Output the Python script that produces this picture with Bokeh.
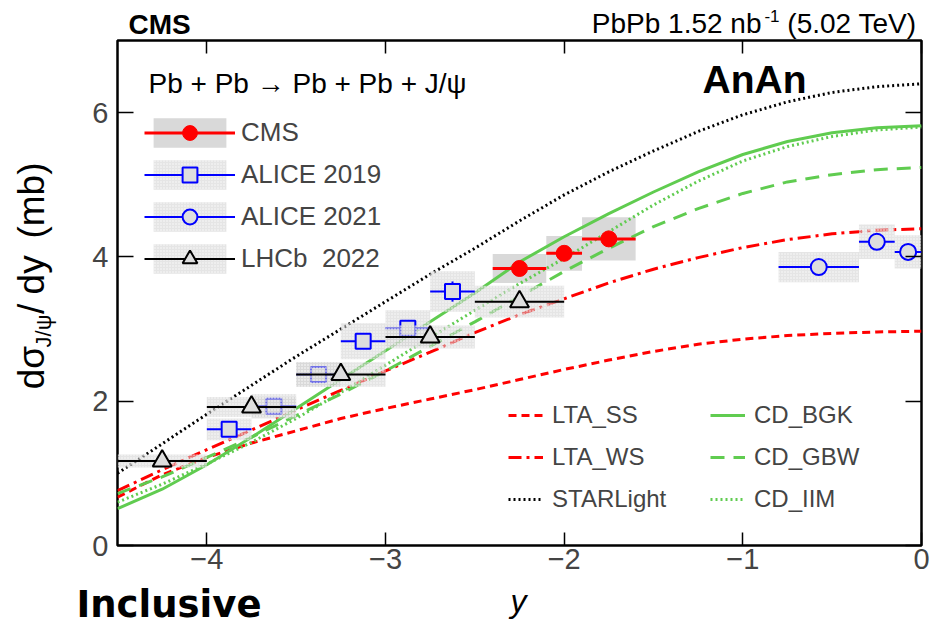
import math
from bokeh.plotting import figure
from bokeh.layouts import column, row
from bokeh.models import (Range1d, LinearAxis, FixedTicker, Label, Legend,
                          LegendItem, CustomJSTickFormatter)
from bokeh.embed import file_html
from bokeh.resources import INLINE

# ---------------- data ----------------
# theory curves, rapidity grid
rap = [-4.5, -4.25, -4.0, -3.75, -3.5, -3.25, -3.0, -2.75, -2.5, -2.25,
       -2.0, -1.75, -1.5, -1.25, -1.0, -0.75, -0.5, -0.25, 0.0]
lta_ss = [0.67, 0.98, 1.22, 1.42, 1.59, 1.76, 1.90, 2.03, 2.16, 2.30,
          2.44, 2.57, 2.69, 2.79, 2.86, 2.91, 2.94, 2.96, 2.97]
lta_ws = [0.76, 1.05, 1.33, 1.60, 1.88, 2.15, 2.42, 2.68, 2.95, 3.20,
          3.42, 3.64, 3.83, 3.99, 4.13, 4.24, 4.32, 4.37, 4.39]
starlight = [1.00, 1.41, 1.82, 2.22, 2.62, 3.00, 3.38, 3.76, 4.12, 4.50,
             4.86, 5.18, 5.47, 5.74, 5.97, 6.15, 6.28, 6.36, 6.40]
cd_bgk = [0.51, 0.78, 1.12, 1.50, 1.90, 2.30, 2.70, 3.10, 3.50, 3.93,
          4.28, 4.60, 4.90, 5.18, 5.42, 5.60, 5.72, 5.79, 5.82]
cd_gbw = [0.72, 0.95, 1.22, 1.50, 1.80, 2.10, 2.42, 2.76, 3.10, 3.45,
          3.80, 4.12, 4.42, 4.67, 4.88, 5.04, 5.14, 5.21, 5.24]
cd_iim = [0.60, 0.85, 1.13, 1.43, 1.76, 2.12, 2.50, 2.88, 3.26, 3.63,
          3.98, 4.35, 4.72, 5.05, 5.33, 5.53, 5.67, 5.76, 5.80]

# CMS
cms_lo = [-2.4, -2.1, -1.9]
cms_hi = [-2.1, -1.9, -1.6]
cms_x = [-2.25, -2.0, -1.75]
cms_y = [3.84, 4.05, 4.25]
cms_sys = [0.20, 0.24, 0.30]

# ALICE 2019
a19_lo = [-4.0, -3.75, -3.5, -3.25, -3.0, -2.75]
a19_hi = [-3.75, -3.5, -3.25, -3.0, -2.75, -2.5]
a19_x = [-3.875, -3.625, -3.375, -3.125, -2.875, -2.625]
a19_y = [1.61, 1.93, 2.37, 2.83, 3.01, 3.52]
a19_stat = [0.06, 0.07, 0.08, 0.10, 0.11, 0.14]
a19_sys = [0.15, 0.17, 0.17, 0.25, 0.25, 0.28]

# ALICE 2021
a21_lo = [-0.8, -0.35, -0.15]
a21_hi = [-0.35, -0.15, 0.0]
a21_x = [-0.575, -0.25, -0.075]
a21_y = [3.86, 4.21, 4.07]
a21_sys = [0.21, 0.24, 0.23]

# LHCb 2022
lhcb_lo = [-4.5, -4.0, -3.5, -3.0, -2.5]
lhcb_hi = [-4.0, -3.5, -3.0, -2.5, -2.0]
lhcb_x = [-4.25, -3.75, -3.25, -2.75, -2.25]
lhcb_y = [1.17, 1.92, 2.37, 2.89, 3.38]
lhcb_sys = [0.09, 0.14, 0.17, 0.16, 0.22]

x_ticks = [-4, -3, -2, -1, 0]
y_ticks = [0, 2, 4, 6]

# ---------------- styling / layout ----------------
RED = "#ff0000"
BLUE = "#0000ff"
GREEN = "#60cc50"
FONT = "Liberation Sans"
MID = 0.355           # cap-middle above baseline, in em

W, H = 935, 627
TOP_H = 39            # header strip
MID_H = 543           # main plot height
BOT_H = H - TOP_H - MID_H
LS_W = 75             # y-title strip width
M_W = W - LS_W
FRAME_L, FRAME_R, FRAME_T, FRAME_B = 117, 921, 40, 545
X0, X1, Y0, Y1 = -4.5, 0.0, 0.0, 7.0


def strip(w, h):
    f = figure(width=w, height=h, x_range=Range1d(0, w), y_range=Range1d(0, h),
               output_backend="svg", toolbar_location=None,
               x_axis_type=None, y_axis_type=None, min_border=0)
    f.outline_line_color = None
    f.background_fill_color = "white"
    f.border_fill_color = "white"
    f.xgrid.visible = False
    f.ygrid.visible = False
    return f


def lab(fig, text, x, y, size, style="normal", angle=0.0, align="left", font=FONT):
    fig.add_layout(Label(x=x, y=y, text=text, text_font=font,
                         text_font_size=f"{size}px", text_font_style=style,
                         angle=angle, text_align=align,
                         text_baseline="middle", text_color="black"))


# ---------------- main plot ----------------
p = figure(width=M_W, height=MID_H, x_range=Range1d(X0, X1),
           y_range=Range1d(Y0, Y1), output_backend="svg", toolbar_location=None,
           min_border_left=FRAME_L - LS_W, min_border_right=W - FRAME_R,
           min_border_top=FRAME_T - TOP_H,
           min_border_bottom=TOP_H + MID_H - FRAME_B)
p.xgrid.visible = False
p.ygrid.visible = False
p.outline_line_color = "black"
p.outline_line_width = 2.5
p.background_fill_color = "white"
p.border_fill_color = "white"

fmt = CustomJSTickFormatter(code="return (tick < 0 ? '\u2212' : '') + Math.abs(tick).toFixed(0);")

for ax in (p.xaxis[0], p.yaxis[0]):
    ax.axis_line_color = None
    ax.major_tick_out = 0
    ax.minor_tick_in = 0
    ax.minor_tick_out = 0
    ax.major_tick_line_width = 1.5
    ax.major_label_text_font = FONT
    ax.major_label_text_font_size = "29px"
p.xaxis[0].major_label_standoff = 3
p.yaxis[0].major_label_standoff = 9
p.xaxis[0].ticker = FixedTicker(ticks=x_ticks)
p.yaxis[0].ticker = FixedTicker(ticks=y_ticks)
p.xaxis[0].formatter = fmt
p.yaxis[0].formatter = fmt
p.xaxis[0].major_tick_in = 13
p.yaxis[0].major_tick_in = 16

top_ax = LinearAxis(ticker=FixedTicker(ticks=x_ticks))
right_ax = LinearAxis(ticker=FixedTicker(ticks=y_ticks))
for ax, tin in ((top_ax, 13), (right_ax, 16)):
    ax.axis_line_color = None
    ax.major_tick_out = 0
    ax.major_tick_in = tin
    ax.major_tick_line_width = 1.5
    ax.minor_tick_in = 0
    ax.minor_tick_out = 0
    ax.major_label_text_font_size = "1px"
    ax.major_label_text_color = None
    ax.major_label_standoff = 0
p.add_layout(top_ax, "above")
p.add_layout(right_ax, "right")


def lows(v, e):
    return [a - b for a, b in zip(v, e)]


def highs(v, e):
    return [a + b for a, b in zip(v, e)]


BOX_PAT = dict(fill_color="#cfcfcf", fill_alpha=0.55, hatch_pattern="dot",
               hatch_color="white", hatch_alpha=0.9, hatch_scale=3,
               hatch_weight=1.2, line_color=None)

# CMS boxes first (curves are drawn over them)
cms_box = p.quad(left=cms_lo, right=cms_hi, bottom=lows(cms_y, cms_sys),
                 top=highs(cms_y, cms_sys), fill_color="#d9d9d9", line_color=None)

# theory curves
r_ss = p.line(rap, lta_ss, line_color=RED, line_width=3, line_dash="8 5")
r_ws = p.line(rap, lta_ws, line_color=RED, line_width=3, line_dash="13 5 3 5")
r_sl = p.line(rap, starlight, line_color="black", line_width=3, line_dash="2 3")
r_bgk = p.line(rap, cd_bgk, line_color=GREEN, line_width=3)
r_gbw = p.line(rap, cd_gbw, line_color=GREEN, line_width=3, line_dash="14 9")
r_iim = p.line(rap, cd_iim, line_color=GREEN, line_width=3, line_dash="2 3")

# ALICE 2019
a19_box = p.quad(left=a19_lo, right=a19_hi, bottom=lows(a19_y, a19_sys),
                 top=highs(a19_y, a19_sys), **BOX_PAT)
a19_seg = p.segment(x0=a19_lo, x1=a19_hi, y0=a19_y, y1=a19_y,
                    line_color=BLUE, line_width=2)
p.segment(x0=a19_x, x1=a19_x, y0=lows(a19_y, a19_stat), y1=highs(a19_y, a19_stat),
          line_color=BLUE, line_width=2)
a19_mk = p.scatter(a19_x, a19_y, marker="square", size=15, line_color=BLUE,
                   line_width=2, fill_color="#dedede")

# LHCb 2022 (its boxes overlay some ALICE points)
lhcb_box = p.quad(left=lhcb_lo, right=lhcb_hi, bottom=lows(lhcb_y, lhcb_sys),
                  top=highs(lhcb_y, lhcb_sys), **BOX_PAT)
lhcb_seg = p.segment(x0=lhcb_lo, x1=lhcb_hi, y0=lhcb_y, y1=lhcb_y,
                     line_color="black", line_width=2)
lhcb_mk = p.scatter(lhcb_x, lhcb_y, marker="triangle", size=19, line_color="black",
                    line_width=2, fill_color="#dedede")

# ALICE 2021
a21_box = p.quad(left=a21_lo, right=a21_hi, bottom=lows(a21_y, a21_sys),
                 top=highs(a21_y, a21_sys), **BOX_PAT)
a21_seg = p.segment(x0=a21_lo, x1=a21_hi, y0=a21_y, y1=a21_y,
                    line_color=BLUE, line_width=2)
a21_mk = p.scatter(a21_x, a21_y, marker="circle", size=16, line_color=BLUE,
                   line_width=2, fill_color="#dedede")

# CMS points on top
cms_seg = p.segment(x0=cms_lo, x1=cms_hi, y0=cms_y, y1=cms_y,
                    line_color=RED, line_width=3)
cms_mk = p.scatter(cms_x, cms_y, marker="circle", size=16, line_color=RED,
                   fill_color=RED)

# ---------------- legends ----------------
fh = FRAME_B - FRAME_T
leg_data = Legend(items=[
    LegendItem(label="CMS", renderers=[cms_box, cms_seg, cms_mk]),
    LegendItem(label="ALICE 2019", renderers=[a19_box, a19_seg, a19_mk]),
    LegendItem(label="ALICE 2021", renderers=[a21_box, a21_seg, a21_mk]),
    LegendItem(label="LHCb\u00a0 2022", renderers=[lhcb_box, lhcb_seg, lhcb_mk]),
], location=(144 - FRAME_L, FRAME_B - 276.5), glyph_width=91, glyph_height=37,
    label_height=37, spacing=5, label_standoff=6, padding=0, margin=0,
    border_line_color=None, background_fill_alpha=0,
    label_text_font=FONT, label_text_font_size="26px")

common = dict(glyph_width=35, glyph_height=30, label_height=30, spacing=12,
              label_standoff=9, padding=0, margin=0, border_line_color=None,
              background_fill_alpha=0, label_text_font=FONT,
              label_text_font_size="24px")
leg_th1 = Legend(items=[
    LegendItem(label="LTA_SS", renderers=[r_ss]),
    LegendItem(label="LTA_WS", renderers=[r_ws]),
    LegendItem(label="STARLight", renderers=[r_sl]),
], location=(508 - FRAME_L, FRAME_B - 514), **common)
leg_th2 = Legend(items=[
    LegendItem(label="CD_BGK", renderers=[r_bgk]),
    LegendItem(label="CD_GBW", renderers=[r_gbw]),
    LegendItem(label="CD_IIM", renderers=[r_iim]),
], location=(710 - FRAME_L, FRAME_B - 514), **common)
for lg in (leg_data, leg_th1, leg_th2):
    p.add_layout(lg, "center")


# texts: page pixel (left x, baseline y) -> figure coordinates
def DX(px):
    return X0 + (px - FRAME_L) * (X1 - X0) / (FRAME_R - FRAME_L)


def DY(py):
    return Y0 + (FRAME_B - py) * (Y1 - Y0) / fh


def plab(text, px, base, size, style="normal"):
    lab(p, text, DX(px), DY(base - MID * size), size, style=style)


plab("Pb + Pb \u2192 Pb + Pb + J/\u03c8", 148, 93, 28)
plab("AnAn", 702, 93, 39, style="bold")

# ---------------- header strip ----------------
ts = strip(W, TOP_H)


def tlab(text, px, base, size, style="normal", align="left"):
    lab(ts, text, px, TOP_H - (base - MID * size), size, style=style, align=align)


tlab("CMS", 128, 34, 28, style="bold")
tlab("(5.02 TeV)", 916, 33, 28, align="right")
tlab("-1", 779, 22, 17, align="right")
tlab("PbPb 1.52 nb", 761, 33, 28, align="right")

# ---------------- y-title strip ----------------
ls = strip(LS_W, MID_H)
ang = math.pi / 2
YB = TOP_H + MID_H


def ylab(text, base_x, start_y, size):
    lab(ls, text, base_x - MID * size, YB - start_y, size, angle=ang)


ylab("d\u03c3", 44, 414, 37)
ylab("J/\u03c8", 51, 369, 22)
ylab("/", 44, 333, 37)
ylab("dy", 44, 312, 37)
ylab("(mb)", 44, 252, 37)

# ---------------- bottom strip ----------------
bs = strip(W, BOT_H)


def blab(text, px, base, size, style="normal", font=FONT):
    lab(bs, text, px, H - (base - MID * size), size, style=style, font=font)


blab("Inclusive", 76, 617.5, 37, style="bold", font="DejaVu Sans")
blab("y", 510, 612, 32, style="italic")

page = column(ts, row(ls, p, spacing=0), bs, spacing=0)
open("out.html", "w").write(file_html(page, INLINE))
